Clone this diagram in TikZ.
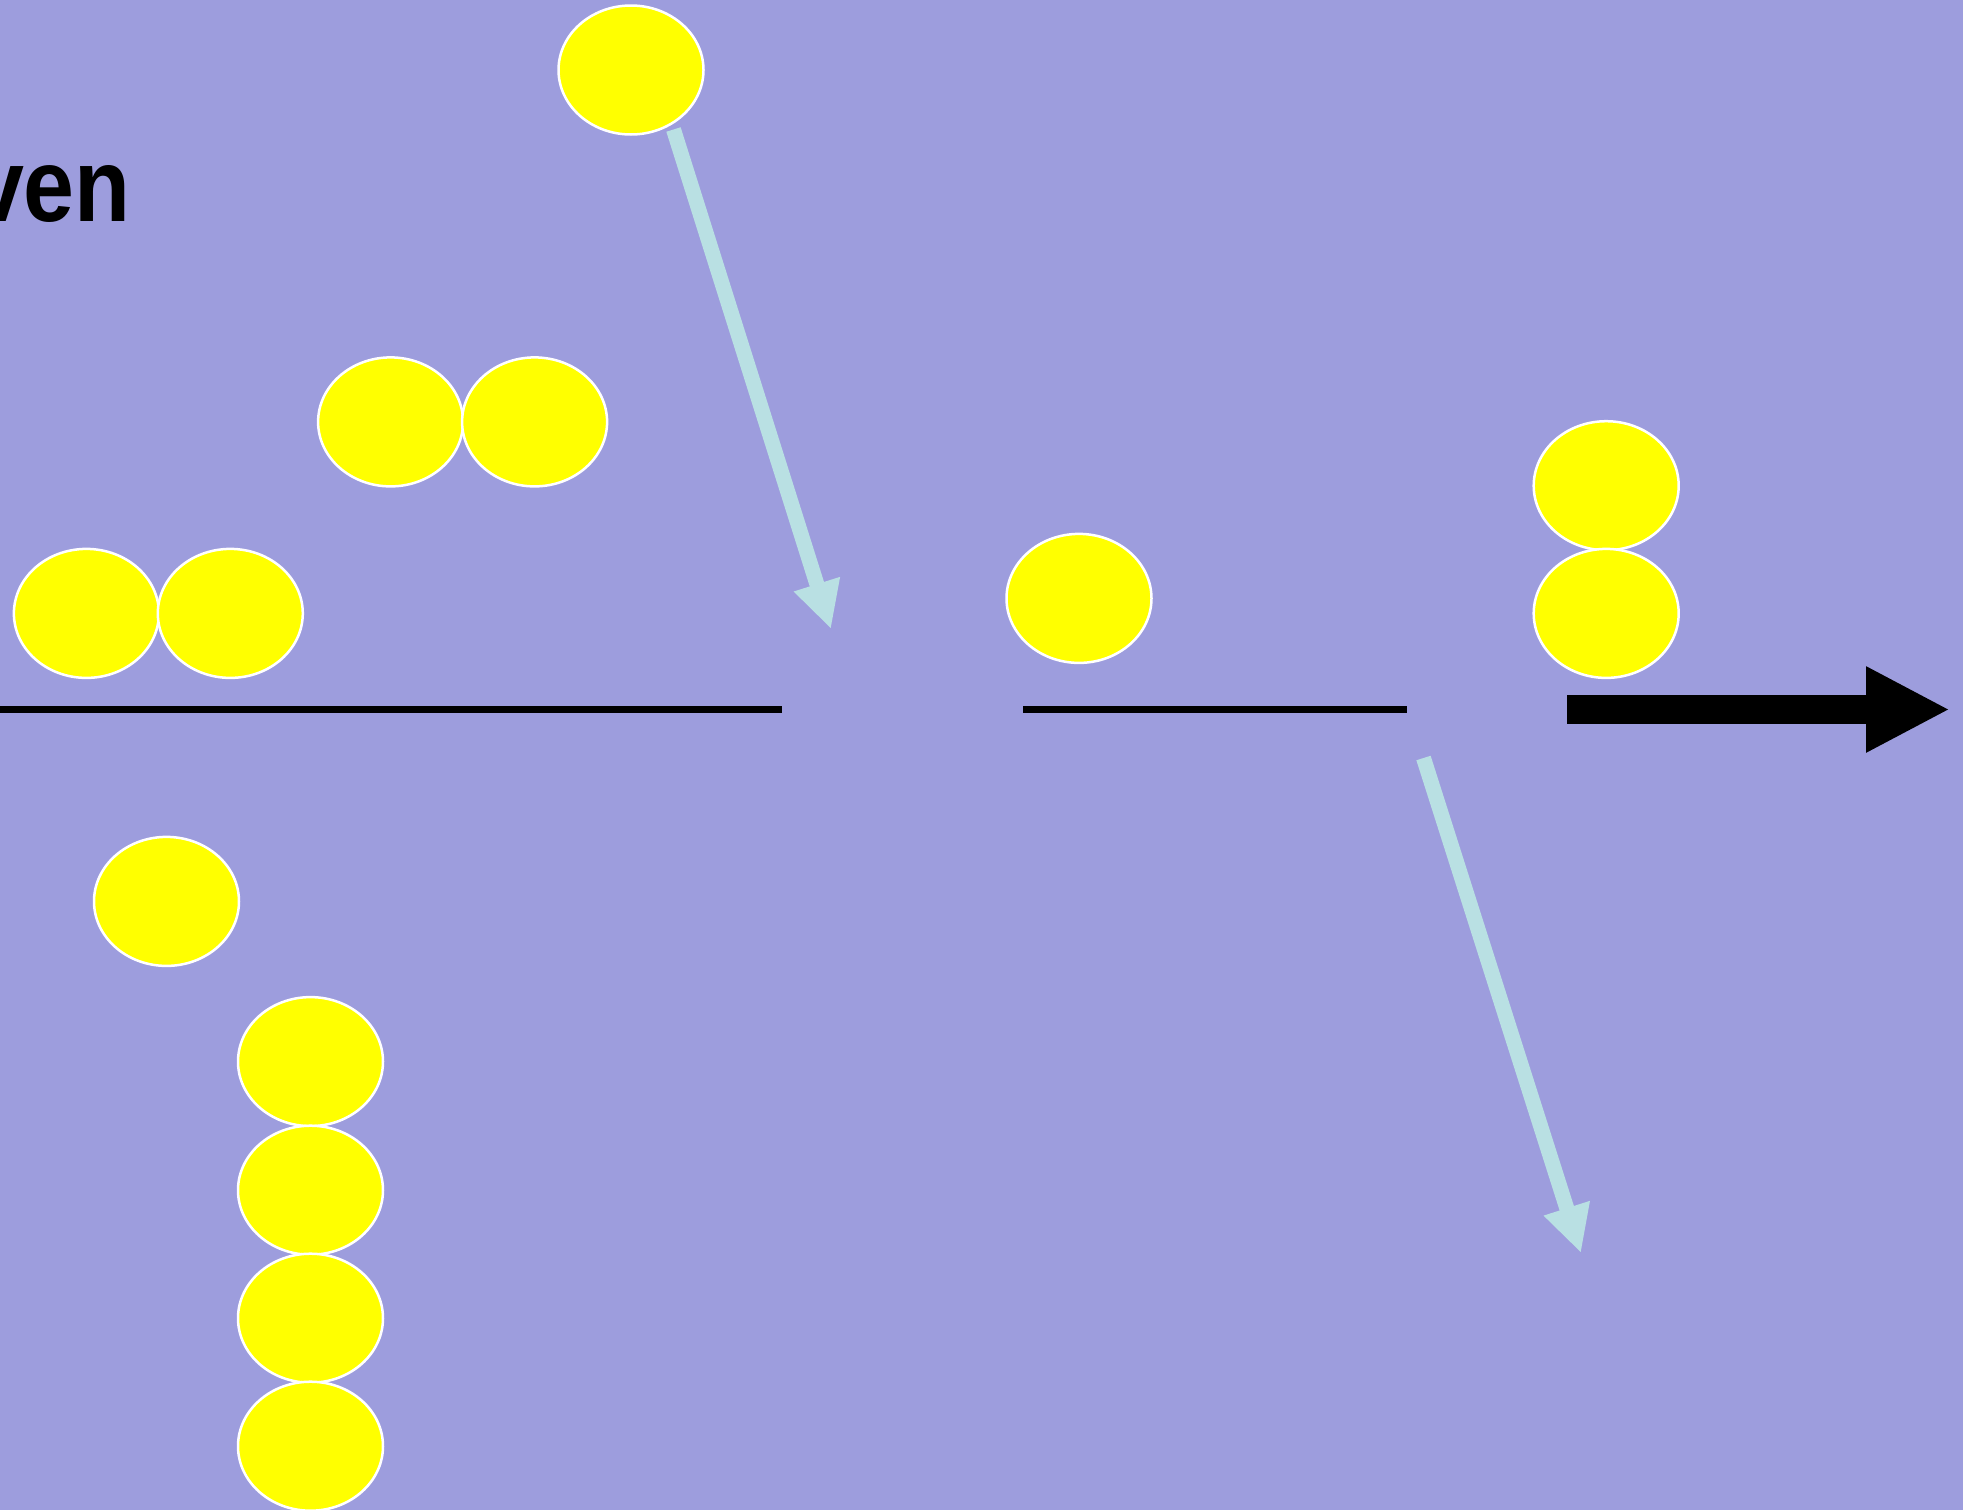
\documentclass[tikz,border=0pt]{standalone}
\usepackage{fontspec}
\usepackage{graphicx}
\setmainfont{Liberation Sans}
\usetikzlibrary{shapes.geometric,arrows.meta}
\definecolor{bgc}{HTML}{9D9DDD}
\definecolor{ballc}{HTML}{FFFF00}
\definecolor{lblue}{HTML}{B9E0E3}
\tikzset{
  ball/.style={ellipse, fill=ballc, draw=white, line width=2.5pt, minimum width=145pt, minimum height=129pt, inner sep=0pt},
  bluearrow/.style={draw=lblue, line width=15pt, -{Triangle[length=47pt, width=45pt]}},
  blackarrow/.style={draw=black, line width=29pt, -{Triangle[length=84pt, width=80pt]}},
  floorline/.style={draw=black, line width=7pt},
  bigtext/.style={font=\fontsize{104}{104}\selectfont\bfseries, inner sep=0pt, anchor=base east}
}
\begin{document}
\begin{tikzpicture}[x=1pt, y=-1pt]
\useasboundingbox[fill=bgc] (0,0) rectangle (1963,1510);
\node[bigtext] (txt) at (131,221) {\scalebox{0.88}[1]{ven}};
% balls
\node[ball] (b0) at (631,70) {};
\node[ball] (b1) at (390.6,421.9) {};
\node[ball] (b2) at (534.6,421.9) {};
\node[ball] (b3) at (86.4,613.4) {};
\node[ball] (b4) at (230.3,613.4) {};
\node[ball] (b5) at (1079,598.4) {};
\node[ball] (b6) at (1606.2,485.7) {};
\node[ball] (b7) at (1606.2,613.4) {};
\node[ball] (b8) at (166.5,901.4) {};
\node[ball] (b9) at (310.5,1061.6) {};
\node[ball] (b10) at (310.5,1190.2) {};
\node[ball] (b11) at (310.5,1318.2) {};
\node[ball] (b12) at (310.5,1446.2) {};
% lines
\coordinate (l1a) at (0,709.5);
\coordinate (l1b) at (782,709.5);
\coordinate (l2a) at (1023,709.5);
\coordinate (l2b) at (1407,709.5);
\draw[floorline] (l1a) -- (l1b);
\draw[floorline] (l2a) -- (l2b);
% blue arrows
\coordinate (a1s) at (673.5,129.5);
\coordinate (a1e) at (831,629);
\coordinate (a2s) at (1423.5,758);
\coordinate (a2e) at (1581,1253);
\draw[bluearrow] (a1s) -- (a1e);
\draw[bluearrow] (a2s) -- (a2e);
% black arrow
\coordinate (k1) at (1567,709.5);
\coordinate (k2) at (1950,709.5);
\draw[blackarrow] (k1) -- (k2);
\end{tikzpicture}
\end{document}
